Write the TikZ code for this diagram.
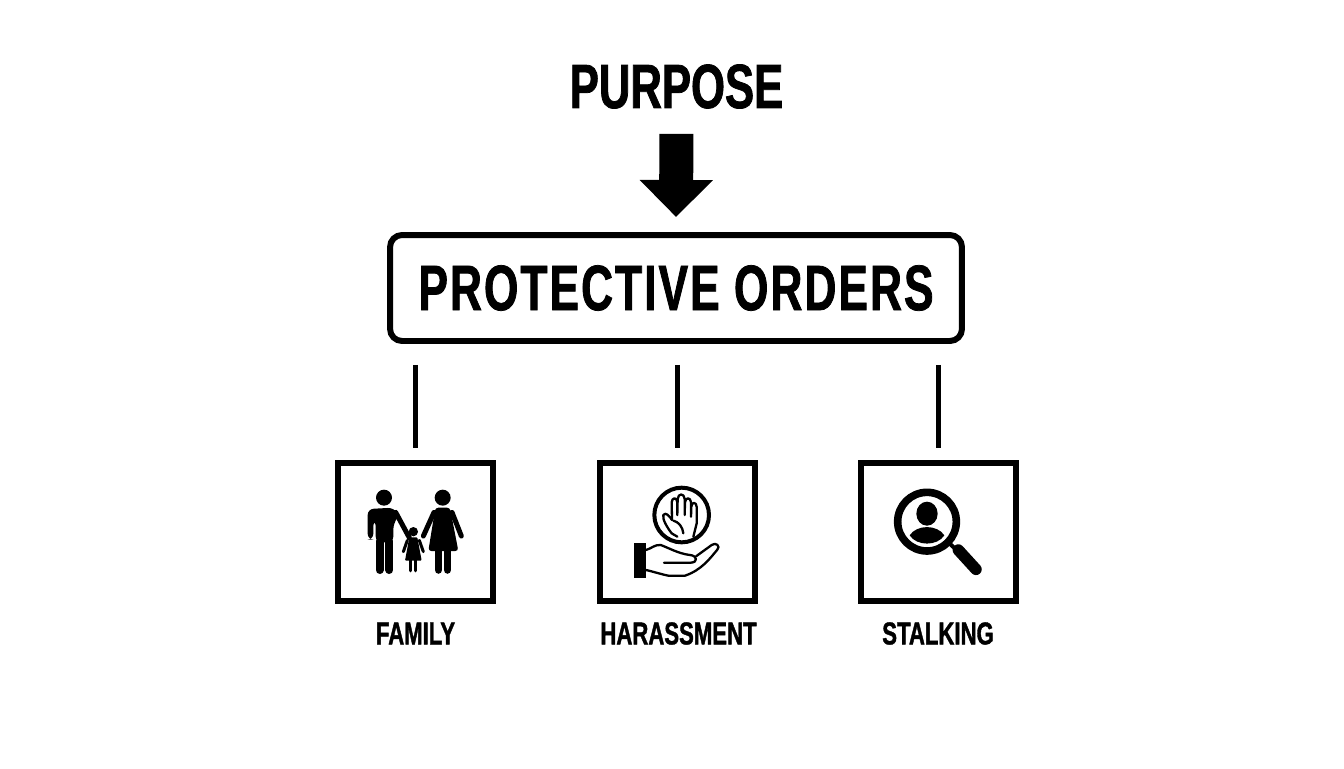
\documentclass[tikz,border=0pt]{standalone}
\usepackage{fontspec}
\usepackage{tikz}
\usetikzlibrary{arrows.meta}
\setmainfont{Liberation Sans}[FakeStretch=0.7,BoldFont={Liberation Sans Bold},BoldFeatures={FakeStretch=0.7,FakeBold=1.2}]
\newfontfamily\orderfont{Liberation Sans}[BoldFont={Liberation Sans Bold},BoldFeatures={FakeStretch=0.69,FakeBold=1.2,LetterSpace=3.2}]
\def\px{0.56906pt}
\tikzset{
  title/.style={inner sep=0pt,font=\fontsize{35.5}{36}\selectfont\bfseries},
  mainbox/.style={draw,line width=6*\px,rounded corners=12*\px,minimum width=572*\px,minimum height=106*\px,inner sep=0pt,font=\orderfont\fontsize{36.5}{37}\selectfont\bfseries},
  iconbox/.style={draw,line width=6*\px,minimum width=155*\px,minimum height=138*\px,inner sep=0pt},
  tag/.style={inner sep=0pt,font=\fontsize{18}{19}\selectfont\bfseries},
  stem/.style={line width=5*\px,shorten <=21*\px,shorten >=12*\px},
  bigarrow/.style={line width=34*\px,-{Triangle[width=71*\px,length=37*\px]}},
  thin hand/.style={line width=2.3*\px,line cap=round,line join=round}
}
\begin{document}
\begin{tikzpicture}[x=0.02cm,y=-0.02cm]
  \useasboundingbox[fill=white] (0,0) rectangle (1344,768);

  % Title and main box
  \node[title] (purpose) at (676.5,86.5) {PURPOSE};
  \node[mainbox] (orders) at (676,288) {PROTECTIVE ORDERS};
  \draw[bigarrow,shorten <=25*\px,shorten >=15*\px] (purpose.south) -- (orders.north);

  % Boxes under the main box
  \node[iconbox] (family) at (415.5,532) {};
  \node[iconbox] (harass) at (677.5,532) {};
  \node[iconbox] (stalk) at (938,532) {};
  \node[tag] (familytag) at (415.5,633.5) {FAMILY};
  \node[tag] (harasstag) at (678.5,633.5) {HARASSMENT};
  \node[tag] (stalktag) at (938,633.5) {STALKING};

  % Stems
  \draw[stem] (family.north |- orders.south) -- (family.north);
  \draw[stem] (harass.north |- orders.south) -- (harass.north);
  \draw[stem] (stalk.north |- orders.south) -- (stalk.north);

  % Family icon
  \begin{scope}[shift={(330,455)},scale=1/3,line cap=round]
    \fill (162,128) circle (24) (338,128) circle (24) (250,230) circle (14);
    % father
    \fill[rounded corners=6*\px] (113,254) -- (113,162) -- (192,158) -- (207,182) -- (190,205) -- (190,262) -- (137,262) -- (137,195) -- (130,195) -- (130,254) -- cycle;
    \draw[line width=8*\px] (149,258) -- (149,345) (178,258) -- (178,345);
    \draw[line width=5*\px] (197,172) -- (238,248);
    % mother
    \fill[rounded corners=3*\px] (316,158) -- (360,158) -- (385,288) -- (295,288) -- cycle;
    \draw[line width=5*\px] (312,172) -- (280,243) (366,172) -- (394,243);
    \draw[line width=7.5*\px] (325,285) -- (325,345) (352,285) -- (352,345);
    % child
    \fill[rounded corners=1*\px] (238,247) -- (262,247) -- (275,317) -- (225,317) -- cycle;
    \draw[line width=3*\px] (232,256) -- (220,290) (268,256) -- (280,290);
    \draw[line width=3.5*\px] (241,315) -- (241,347) (257,315) -- (257,347);
  \end{scope}

  % Harassment icon
  \begin{scope}[shift={(590,455)},scale=1/3]
    \draw[line width=4*\px] (275,180) circle (82);
    % raised hand
    \draw[thin hand] (246,195) -- (245,142) .. controls (246,126) and (261,126) .. (262,142) -- (262,180)
      (262,175) -- (263,132) .. controls (264,114) and (283,114) .. (284,132) -- (284,180)
      (284,180) -- (285,142) .. controls (286,126) and (302,126) .. (303,142) -- (303,185)
      (303,185) -- (304,155) .. controls (305,140) and (319,140) .. (320,155) -- (320,205) -- (310,245);
    \draw[thin hand] (246,195) .. controls (238,182) and (226,170) .. (220,180) .. controls (216,192) and (232,218) .. (245,235) -- (262,245);
    \draw[thin hand] (250,197) .. controls (265,200) and (278,215) .. (280,235);
    % open hand
    \fill (133,265) rectangle (168,368);
    \draw[line width=2.3*\px,line join=round,line cap=round] (168,285) .. controls (185,280) and (195,268) .. (212,270)
      .. controls (235,278) and (265,296) .. (300,300) .. controls (322,302) and (325,322) .. (302,323) -- (222,323);
    \draw[line width=2.3*\px,line join=round,line cap=round] (318,304) -- (365,270) .. controls (378,260) and (392,274) .. (382,284)
      .. controls (360,310) and (335,345) .. (285,362) -- (235,362) .. controls (215,358) and (190,350) .. (168,345);
  \end{scope}

  % Stalking icon
  \begin{scope}[shift={(850,455)},scale=1/3]
    \draw[line width=7.6*\px] (231,200) circle (88);
    \fill (231,176) ellipse (32 and 36);
    \fill (179,241) .. controls (200,208) and (262,208) .. (283,241) .. controls (262,274) and (200,274) .. (179,241) -- cycle;
    \draw[line width=4*\px] (295,262) -- (325,290);
    \draw[line width=11.5*\px,line cap=round] (325,285) -- (378,343);
  \end{scope}
\end{tikzpicture}
\end{document}
